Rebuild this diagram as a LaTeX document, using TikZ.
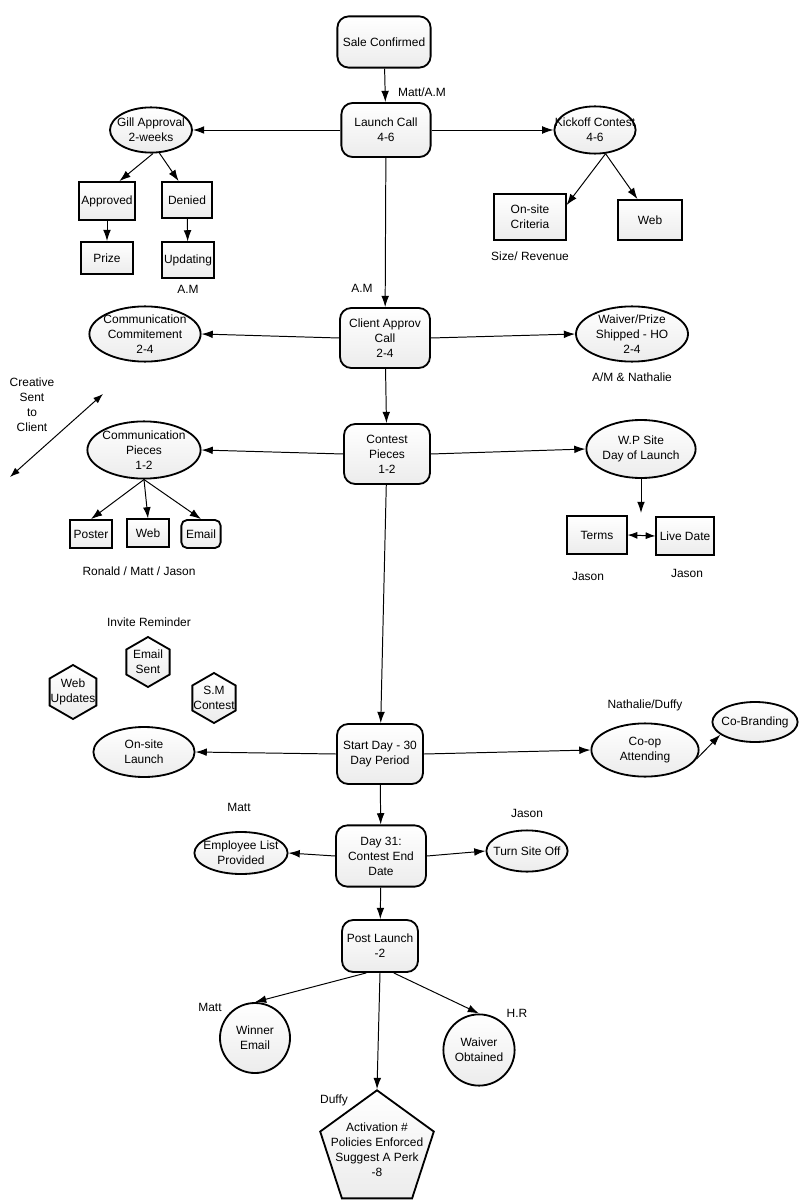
\documentclass[tikz,border=0pt]{standalone}
\usepackage{fontspec}
\setmainfont{Liberation Sans}
\usetikzlibrary{arrows.meta,shapes.geometric,positioning}

\begin{document}
\begin{tikzpicture}[
  x=0.025cm, y=-0.025cm,
  font=\fontsize{8.5}{10.7}\selectfont,
  phase/.style={rectangle, rounded corners=8pt, draw, line width=1.3pt, top color=white, bottom color=gray!15, align=center, inner sep=1pt},
  task/.style={rectangle, draw, line width=1.3pt, top color=white, bottom color=gray!15, align=center, inner sep=1pt},
  oval/.style={ellipse, draw, line width=1.3pt, top color=white, bottom color=gray!15, align=center, inner sep=-0.3cm},
  hexa/.style={regular polygon, regular polygon sides=6, regular polygon rotate=30, draw, line width=1.3pt, top color=white, bottom color=gray!15, align=center, inner sep=-0.3cm},
  circ/.style={circle, draw, line width=1.3pt, top color=white, bottom color=gray!15, align=center, inner sep=0pt},
  penta/.style={regular polygon, regular polygon sides=5, draw, line width=1.3pt, top color=white, bottom color=gray!15, align=center, inner sep=-0.3cm},
  lbl/.style={align=center},
  arr/.style={-{Latex[length=8pt,width=5.5pt]}, line width=0.7pt},
  dbl/.style={{Latex[length=7pt,width=5pt]}-{Latex[length=7pt,width=5pt]}, line width=0.7pt}
]
\useasboundingbox (0,0) rectangle (800,1200);

% main line
\node[phase, minimum width=2.33cm, minimum height=1.28cm] (sale) at (384,42) {Sale Confirmed};
\node[phase, minimum width=2.23cm, minimum height=1.35cm] (launch) at (386,130) {Launch Call\\4-6};
\node[phase, minimum width=2.25cm, minimum height=1.5cm] (client) at (385,338) {Client Approv\\Call\\2-4};
\node[phase, minimum width=2.15cm, minimum height=1.5cm] (contest) at (387,454) {Contest\\Pieces\\1-2};
\node[phase, minimum width=2.15cm, minimum height=1.5cm] (start) at (380,754) {Start Day - 30\\Day Period};
\node[phase, minimum width=2.25cm, minimum height=1.53cm] (day31) at (381,856) {Day 31:\\Contest End\\Date};
\node[phase, minimum width=1.9cm, minimum height=1.3cm] (post) at (380,946) {Post Launch\\-2};
\node[lbl] (l_launch) at (422,92) {Matt/A.M};
\node[lbl] (l_client) at (362,288) {A.M};
\draw[arr] (sale) -- (launch);
\draw[arr] (launch) -- (client);
\draw[arr] (client) -- (contest);
\draw[arr] (contest) -- (start);
\draw[arr] (start) -- (day31);
\draw[arr] (day31) -- (post);

% launch call
\node[oval, minimum width=2.05cm, minimum height=1.13cm] (gill) at (151,130) {Gill Approval\\2-weeks};
\node[oval, minimum width=2.03cm, minimum height=1.18cm] (kickoff) at (595,130) {Kickoff Contest\\4-6};
\draw[arr] (launch.west) -- (gill.east);
\draw[arr] (launch.east) -- (kickoff.west);
\node[task, minimum width=1.4cm, minimum height=0.95cm] (approved) at (107,201) {Approved};
\node[task, minimum width=1.25cm, minimum height=0.9cm] (denied) at (187,200) {Denied};
\node[task, minimum width=1.3cm, minimum height=0.8cm] (prize) at (107,258) {Prize};
\node[task, minimum width=1.28cm, minimum height=0.88cm] (updating) at (188,260) {Updating};
\node[lbl, below=0.05cm of updating] (l_updating) {A.M};
\draw[arr] (gill.-85) -- (approved.58);
\draw[arr] (gill.-70) -- (denied.114);
\draw[arr] (approved) -- (prize);
\draw[arr] (denied) -- (updating);
\node[task, minimum width=1.78cm, minimum height=1.15cm] (criteria) at (530,217) {On-site\\Criteria};
\node[task, minimum width=1.6cm, minimum height=1.0cm] (web1) at (650,220) {Web};
\node[lbl, below=0.15cm of criteria] (l_criteria) {Size/ Revenue};
\draw[arr] (kickoff.-66) -- (criteria.18);
\draw[arr] (kickoff.-66) -- (web1.121);

% client approval
\node[oval, minimum width=2.78cm, minimum height=1.38cm] (commit) at (145,334) {Communication\\Commitement\\2-4};
\node[oval, minimum width=2.8cm, minimum height=1.38cm] (waiver) at (632,334) {Waiver/Prize\\Shipped - HO\\2-4};
\node[lbl, below=0.14cm of waiver] (l_waiver) {A/M \& Nathalie};
\draw[arr] (client.west) -- (commit.east);
\draw[arr] (client.east) -- (waiver.west);

% contest pieces
\node[oval, minimum width=2.83cm, minimum height=1.43cm] (pieces) at (144,450) {Communication\\Pieces\\1-2};
\node[oval, minimum width=2.73cm, minimum height=1.45cm] (wpsite) at (641,449) {W.P Site\\Day of Launch};
\draw[arr] (contest.west) -- (pieces.east);
\draw[arr] (contest.east) -- (wpsite.west);
\node[lbl] (creative) at (32,405) {Creative\\Sent\\to\\Client};
\coordinate (cs_a) at (10,477);
\coordinate (cs_b) at (103,394);
\draw[dbl] (cs_a) -- (cs_b);
\node[task, minimum width=1.05cm, minimum height=0.7cm] (poster) at (91,534) {Poster};
\node[task, minimum width=1.03cm, minimum height=0.68cm] (web2) at (148,533) {Web};
\node[phase, rounded corners=4pt, minimum width=0.98cm, minimum height=0.7cm] (emailbox) at (201,534) {Email};
\draw[arr] (pieces.south) -- (poster.north);
\draw[arr] (pieces.south) -- (web2.north);
\draw[arr] (pieces.south) -- (emailbox.north);
\node[lbl] (l_pieces) at (139,571) {Ronald / Matt / Jason};
\coordinate (wp_end) at (641,513);
\draw[arr] (wpsite.south) -- (wp_end);
\node[task, minimum width=1.48cm, minimum height=0.93cm] (terms) at (597,535) {Terms};
\node[task, minimum width=1.43cm, minimum height=0.93cm] (live) at (685,536) {Live Date};
\draw[dbl] (terms.east) -- (live.west);
\node[lbl] (l_terms) at (588,576) {Jason};
\node[lbl] (l_live) at (687,573) {Jason};

% promotion
\node[lbl] (l_invite) at (149,622) {Invite Reminder};
\node[hexa, minimum size=1.25cm] (emailsent) at (148,662) {Email\\Sent};
\node[hexa, minimum size=1.35cm] (webupd) at (73,692) {Web\\Updates};
\node[hexa, minimum size=1.25cm] (smcontest) at (214,698) {S.M\\Contest};

% start day
\node[oval, minimum width=2.53cm, minimum height=1.25cm] (onsite) at (144,752) {On-site\\Launch};
\node[oval, minimum width=2.68cm, minimum height=1.33cm] (coop) at (645,750) {Co-op\\Attending};
\node[oval, minimum width=2.13cm, minimum height=1.0cm] (cobrand) at (755,722) {Co-Branding};
\node[lbl] (l_coop) at (645,705) {Nathalie/Duffy};
\draw[arr] (start.west) -- (onsite.east);
\draw[arr] (start.east) -- (coop.west);
\draw[arr] (coop.-10) -- (cobrand.-160);

% day 31
\node[oval, minimum width=2.33cm, minimum height=1.05cm] (employee) at (241,853) {Employee List\\Provided};
\node[oval, minimum width=2.03cm, minimum height=1.03cm] (siteoff) at (527,851) {Turn Site Off};
\node[lbl] (l_employee) at (239,807) {Matt};
\node[lbl] (l_siteoff) at (527,813) {Jason};
\draw[arr] (day31.west) -- (employee.east);
\draw[arr] (day31.east) -- (siteoff.west);

% post launch
\node[circ, minimum size=1.75cm] (winner) at (255,1038) {Winner\\Email};
\node[circ, minimum size=1.78cm] (obtained) at (479,1050) {Waiver\\Obtained};
\node[penta, minimum size=2.72cm] (activ) at (377,1150) {Activation \#\\Policies Enforced\\Suggest A Perk\\-8};
\node[lbl] (l_winner) at (210,1007) {Matt};
\node[lbl] (l_obtained) at (517,1013) {H.R};
\node[lbl] (l_activ) at (334,1100) {Duffy};
\draw[arr] (post.-117) -- (winner.north);
\draw[arr] (post.-63) -- (obtained.north);
\draw[arr] (post.south) -- (activ.north);
\end{tikzpicture}
\end{document}
